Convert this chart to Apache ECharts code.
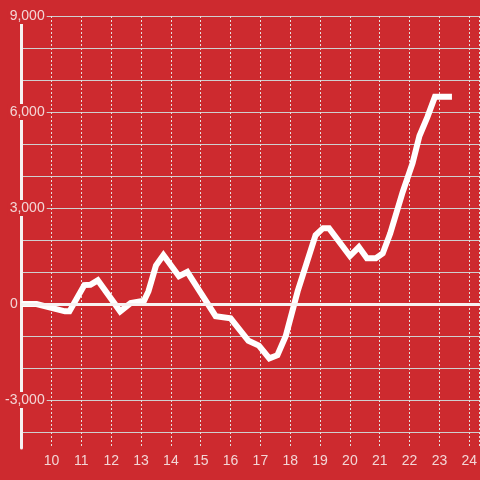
<!DOCTYPE html>
<html><head><meta charset="utf-8">
<script src="https://cdn.jsdelivr.net/npm/echarts@6/dist/echarts.min.js"></script>
<style>html,body{margin:0;padding:0;background:#cd2a2f}#c{width:480px;height:480px}</style>
</head><body><div id="c"></div>
<script>
// time of day (hours)
const hours = [9.0, 9.5, 10.45, 10.6, 11.1, 11.3, 11.55, 12.3, 12.65, 13.1, 13.25, 13.5, 13.75, 14.27, 14.55, 15.5, 16.0, 16.6, 16.95, 17.3, 17.57, 17.85, 18.25, 18.85, 19.1, 19.3, 20.0, 20.3, 20.57, 20.87, 21.1, 21.35, 21.77, 22.1, 22.33, 22.6, 22.85, 23.42];
const values = [0, 0, -230, -230, 590, 600, 740, -230, 30, 100, 400, 1200, 1530, 870, 1000, -380, -450, -1150, -1300, -1700, -1600, -1000, 400, 2150, 2370, 2370, 1500, 1780, 1430, 1430, 1580, 2200, 3500, 4400, 5250, 5850, 6480, 6480];
const xTicks = [10, 11, 12, 13, 14, 15, 16, 17, 18, 19, 20, 21, 22, 23, 24];
const yTicks = [-3000, 0, 3000, 6000, 9000];

const BG = '#cd2a2f';
const TXT = '#f3d6d6';
const chart = echarts.init(document.getElementById('c'));
const yBase = {type: 'value', min: -4500, max: 9000, interval: 500, position: 'left'};
const xBase = {type: 'value', min: 9, max: 9 + 46 / 3, interval: 1, position: 'bottom'};
chart.setOption({
  backgroundColor: BG,
  animation: false,
  grid: {left: 20, right: 0, top: 16, bottom: 32, containLabel: false},
  xAxis: [
    Object.assign({}, xBase, {
      axisLine: {show: false}, axisTick: {show: false},
      axisLabel: {color: TXT, fontSize: 14, fontFamily: 'Liberation Sans, Arial, sans-serif', margin: 6,
        showMinLabel: false, showMaxLabel: false,
        formatter: v => (xTicks.indexOf(Math.round(v * 1000) / 1000) >= 0 ? String(v) : '')},
      splitLine: {show: true, lineStyle: {color: '#e6dede', width: 1, type: [2, 2]}}
    }),
    Object.assign({}, xBase, {
      z: 6,
      axisLine: {show: true, onZero: true, onZeroAxisIndex: 0, lineStyle: {color: '#f7f2f2', width: 3}},
      axisTick: {show: false}, axisLabel: {show: false}, splitLine: {show: false}
    })
  ],
  yAxis: [
    Object.assign({}, yBase, {
      axisLine: {show: true, lineStyle: {color: '#f7f2f2', width: 3}},
      axisTick: {show: false}, axisLabel: {show: false},
      splitLine: {show: true, lineStyle: {color: ['rgba(0,0,0,0)', '#cfcfcf'], width: 1}}
    }),
    Object.assign({}, yBase, {
      z: 8,
      axisLine: {show: false}, axisTick: {show: false}, splitLine: {show: false},
      axisLabel: {
        margin: -25, align: 'right',
        formatter: v => {
          if (yTicks.indexOf(v) < 0) return '';
          if (v === 0) return '{z|0}';
          return '{a|' + echarts.format.addCommas(v) + '}';
        },
        rich: {
          a: {color: TXT, fontSize: 14, fontFamily: 'Liberation Sans, Arial, sans-serif', backgroundColor: BG, padding: [1, 2, 1, 2], lineHeight: 14},
          z: {color: TXT, fontSize: 14, fontFamily: 'Liberation Sans, Arial, sans-serif', padding: [0, 29, 0, 0]}
        }
      }
    })
  ],
  series: [{
    type: 'line',
    xAxisIndex: 0, yAxisIndex: 0,
    data: hours.map((h, i) => [h, values[i]]),
    showSymbol: false, symbol: 'none',
    z: 5,
    lineStyle: {color: '#ffffff', width: 6, cap: 'butt', join: 'miter'}
  }]
});
</script></body></html>
